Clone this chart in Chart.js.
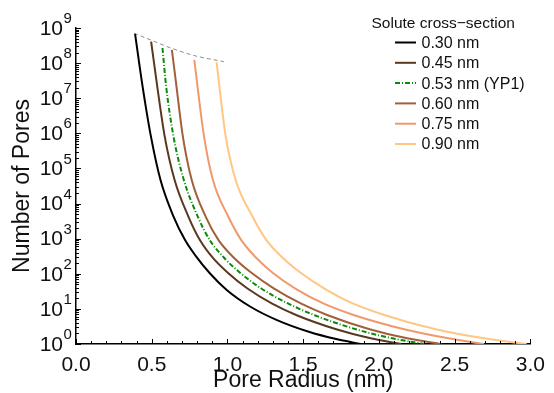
<!DOCTYPE html>
<html>
<head>
<meta charset="utf-8">
<script src="https://cdn.jsdelivr.net/npm/chart.js@4/dist/chart.umd.min.js"></script>
<style>
  html, body { margin: 0; padding: 0; background: #fff; }
  #wrap { width: 554px; height: 393px; }
</style>
</head>
<body>
<div id="wrap"><canvas id="c" width="554" height="393"></canvas></div>
<script>
// ---------- data ----------
const seriesLabels = ['0.30 nm', '0.45 nm', '0.53 nm (YP1)', '0.60 nm', '0.75 nm', '0.90 nm'];
const legendTitle = 'Solute cross\u2212section';

const radius030 = [0.390, 0.438, 0.493, 0.558, 0.644, 0.720, 0.785, 0.885, 0.995, 1.152, 1.327, 1.542, 1.718, 1.880];
const pores030  = [6.76e8, 2.40e7, 8.91e5, 4.68e4, 4266, 912, 347, 102, 34.7, 11.5, 4.79, 2.19, 1.38, 1];

const radius045 = [0.496, 0.535, 0.584, 0.651, 0.742, 0.818, 0.904, 1.002, 1.132, 1.295, 1.457, 1.718, 1.945, 2.147];
const pores045  = [4.07e8, 2.40e7, 8.91e5, 4.68e4, 4266, 912, 282, 107, 38.0, 14.1, 6.61, 2.63, 1.45, 1];

const radius053 = [0.571, 0.594, 0.642, 0.712, 0.804, 0.883, 0.979, 1.083, 1.223, 1.402, 1.575, 1.848, 2.088, 2.303];
const pores053  = [2.69e8, 2.40e7, 8.91e5, 4.68e4, 4266, 912, 282, 107, 38.0, 14.1, 6.61, 2.63, 1.45, 1];

const radius060 = [0.633, 0.662, 0.704, 0.764, 0.856, 0.941, 1.044, 1.158, 1.308, 1.487, 1.662, 1.939, 2.186, 2.412];
const pores060  = [2.40e8, 2.40e7, 8.91e5, 4.68e4, 4266, 912, 282, 107, 38.0, 14.1, 6.61, 2.63, 1.45, 1];

const radius075 = [0.781, 0.844, 0.904, 1.005, 1.091, 1.191, 1.298, 1.448, 1.636, 1.838, 2.167, 2.459, 2.694];
const pores075  = [1.23e8, 8.91e5, 4.68e4, 4266, 912, 282, 107, 38.0, 14.1, 6.61, 2.63, 1.45, 1];

const radius090 = [0.928, 0.987, 1.054, 1.165, 1.257, 1.366, 1.483, 1.640, 1.831, 2.040, 2.375, 2.694, 2.975];
const pores090  = [1.07e8, 8.91e5, 4.68e4, 4266, 912, 282, 107, 38.0, 14.1, 6.61, 2.63, 1.45, 1];

const limitRadius = [0.384, 0.492, 0.633, 0.785, 0.976];
const limitPores  = [7.08e8, 4.57e8, 2.63e8, 1.62e8, 1.10e8];

const xTickLabels = ['0.0', '0.5', '1.0', '1.5', '2.0', '2.5', '3.0'];
const yTickExponents = ['0', '1', '2', '3', '4', '5', '6', '7', '8', '9'];

const xTitle = 'Pore Radius (nm)';
const yTitle = 'Number of Pores';

// ---------- styles ----------
const colors = ['#000000', '#5a3820', '#0a8a0a', '#a2603a', '#f0996a', '#ffc684'];
const dashes = [[], [], [5, 2, 1, 2], [], [], []];
const FONT = '"Liberation Sans", Arial, Helvetica, sans-serif';

const zip = (xs, ys) => xs.map((v, i) => ({ x: v, y: ys[i] }));
const radii = [radius030, radius045, radius053, radius060, radius075, radius090];
const pores = [pores030, pores045, pores053, pores060, pores075, pores090];

const datasets = seriesLabels.map((lab, i) => ({
  label: lab,
  data: zip(radii[i], pores[i]),
  borderColor: colors[i],
  backgroundColor: colors[i],
  borderWidth: 2,
  borderDash: dashes[i],
  pointRadius: 0,
  fill: false,
  cubicInterpolationMode: 'monotone'
}));
datasets.push({
  label: 'limit',
  hideInLegend: true,
  data: zip(limitRadius, limitPores),
  borderColor: '#8c8c8c',
  borderWidth: 1,
  borderDash: [4, 3],
  pointRadius: 0,
  fill: false,
  cubicInterpolationMode: 'monotone'
});

// ---------- plugins ----------
const axisDecor = {
  id: 'axisDecor',
  afterDraw(chart) {
    const { ctx, chartArea: a } = chart;
    const xs = chart.scales.x, ys = chart.scales.y;
    ctx.save();
    ctx.strokeStyle = '#000';
    ctx.lineWidth = 1;
    for (let i = 0; i <= 30; i++) {
      const px = Math.round(xs.getPixelForValue(i / 10)) + 0.5;
      const len = i % 5 === 0 ? 5 : 3;
      ctx.beginPath(); ctx.moveTo(px, a.bottom); ctx.lineTo(px, a.bottom - len); ctx.stroke();
    }
    for (let e = 0; e <= 9; e++) {
      for (let m = 1; m <= 9; m++) {
        if (e === 9 && m > 1) break;
        const py = Math.round(ys.getPixelForValue(m * Math.pow(10, e))) + 0.5;
        const len = m === 1 ? 5 : 3;
        ctx.beginPath(); ctx.moveTo(a.left, py); ctx.lineTo(a.left + len, py); ctx.stroke();
      }
    }
    ctx.fillStyle = '#111';
    ctx.textBaseline = 'middle';
    yTickExponents.forEach((ex) => {
      const py = ys.getPixelForValue(Math.pow(10, Number(ex)));
      ctx.font = '21px ' + FONT;
      ctx.textAlign = 'right';
      ctx.fillText('10', 63, py + 1);
      ctx.font = '15px ' + FONT;
      ctx.textAlign = 'left';
      ctx.fillText(ex, 63.5, py - 9);
    });
    ctx.restore();
  }
};

const sideLegend = {
  id: 'sideLegend',
  afterDraw(chart) {
    const ctx = chart.ctx;
    ctx.save();
    ctx.fillStyle = '#111';
    ctx.textBaseline = 'middle';
    ctx.textAlign = 'left';
    ctx.font = '15.5px ' + FONT;
    ctx.fillText(legendTitle, 371.5, 23.5);
    let row = 0;
    chart.data.datasets.forEach((ds) => {
      if (ds.hideInLegend) return;
      const y = 43.5 + row * 20.3;
      ctx.save();
      ctx.strokeStyle = ds.borderColor;
      ctx.lineWidth = 2;
      ctx.setLineDash(ds.borderDash || []);
      ctx.beginPath(); ctx.moveTo(395, y - 1); ctx.lineTo(416, y - 1); ctx.stroke();
      ctx.restore();
      ctx.font = '16px ' + FONT;
      ctx.fillText(ds.label, 421.5, y);
      row++;
    });
    ctx.restore();
  }
};

new Chart(document.getElementById('c'), {
  type: 'line',
  data: { datasets },
  options: {
    responsive: false,
    animation: false,
    events: [],
    layout: { padding: { top: 28, right: 16, left: 0, bottom: 0 } },
    plugins: { legend: { display: false }, tooltip: { enabled: false } },
    scales: {
      x: {
        type: 'linear', min: 0, max: 3,
        grid: { display: false, drawTicks: false },
        border: { display: true, color: '#000', width: 1.5 },
        ticks: {
          stepSize: 0.5, padding: 9, color: '#111', maxRotation: 0,
          font: { family: FONT, size: 21 },
          callback: (v, i) => xTickLabels[i]
        },
        title: { display: true, text: xTitle, color: '#111',
          font: { family: FONT, size: 23, lineHeight: 1 }, padding: { top: 0, bottom: 1 } },
        afterFit: (s) => { s.height = 49; }
      },
      y: {
        type: 'logarithmic', min: 1, max: 1e9,
        grid: { display: false, drawTicks: false },
        border: { display: true, color: '#000', width: 1.5 },
        ticks: { display: false },
        title: { display: true, text: yTitle, color: '#111',
          font: { family: FONT, size: 23, lineHeight: 1 }, padding: { top: 11.5, bottom: 0 } },
        afterFit: (s) => { s.width = 76; }
      }
    }
  },
  plugins: [axisDecor, sideLegend]
});
</script>
</body>
</html>
